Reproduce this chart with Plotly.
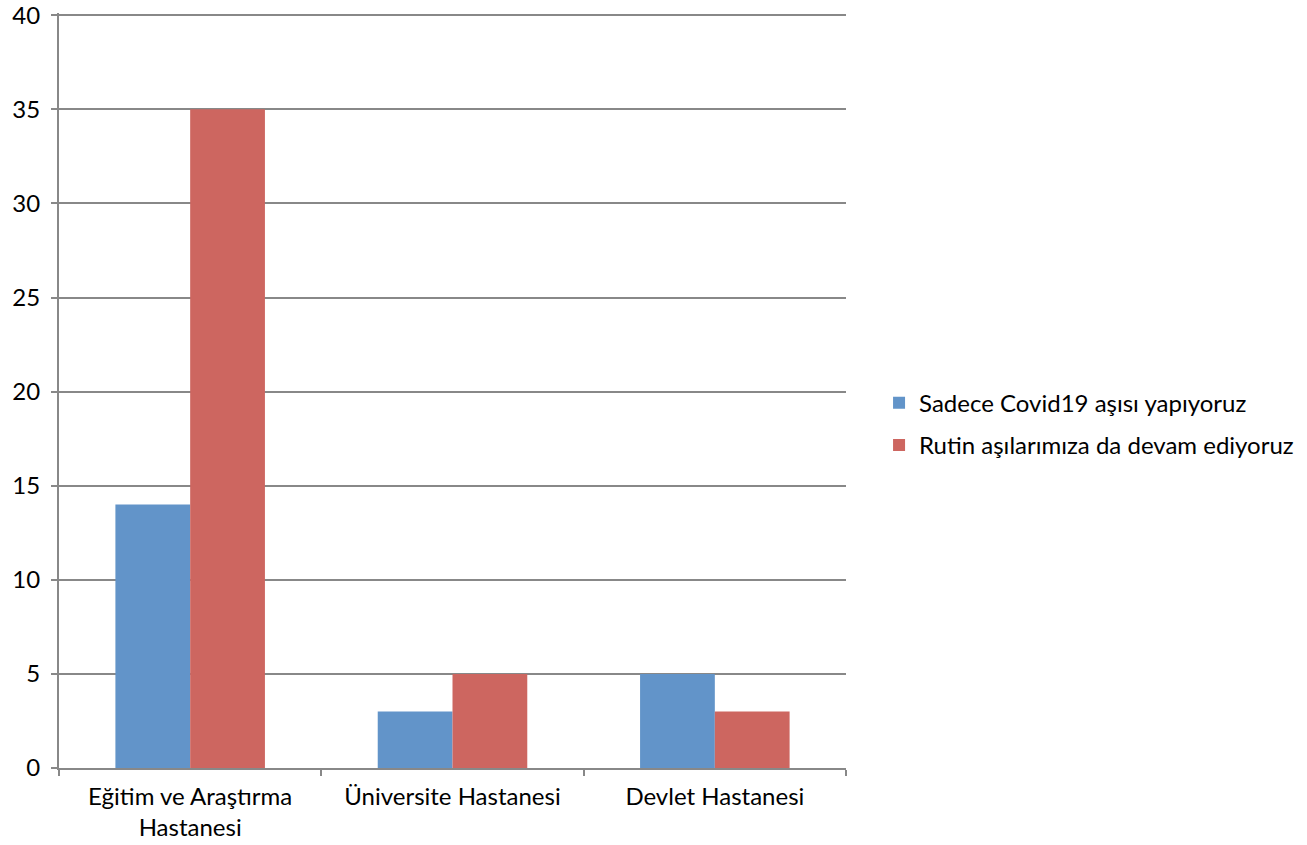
import plotly.graph_objects as go

categories = ["Eğitim ve Araştırma<br>Hastanesi", "Üniversite Hastanesi", "Devlet Hastanesi"]
series_names = ["Sadece Covid19 aşısı yapıyoruz", "Rutin aşılarımıza da devam ediyoruz"]
covid_only = [14, 3, 5]
routine_too = [35, 5, 3]
y_ticks = [0, 5, 10, 15, 20, 25, 30, 35, 40]
colors = ["#6294C9", "#CD6660"]

fig = go.Figure()
fig.add_trace(go.Bar(x=categories, y=covid_only, name=series_names[0], legendgroup="a",
                     marker=dict(color=colors[0], line=dict(width=0))))
fig.add_trace(go.Bar(x=categories, y=routine_too, name=series_names[1], legendgroup="b",
                     marker=dict(color=colors[1], line=dict(width=0))))

font_family = "Lato, 'Liberation Sans', sans-serif"
fig.update_layout(
    width=1307, height=845,
    margin=dict(l=59, r=461, t=13, b=77, autoexpand=False),
    paper_bgcolor="white", plot_bgcolor="white",
    barmode="group", bargap=0.43, bargroupgap=0,
    font=dict(family=font_family, size=24, color="black"),
    showlegend=True,
    legend=dict(x=1.042, y=0.4555, xanchor="left", yanchor="middle",
                font=dict(size=24), tracegroupgap=8, itemwidth=30,
                traceorder="grouped", bgcolor="rgba(0,0,0,0)"),
    xaxis=dict(showline=True, linecolor="#888888", linewidth=2, automargin=False,
               ticks="outside", tickson="boundaries", ticklen=6, tickcolor="#888888",
               tickwidth=2, showgrid=False, tickfont=dict(size=24), ticklabelstandoff=6),
    yaxis=dict(range=[0, 40.12], tickmode="array", tickvals=y_ticks,
               showline=True, linecolor="#888888", linewidth=2,
               automargin=False, ticklabeloverflow="allow",
               ticks="outside", ticklen=6, tickcolor="#888888", tickwidth=2,
               showgrid=True, gridcolor="#888888", gridwidth=1.5, zeroline=False,
               tickfont=dict(size=24), ticklabelstandoff=6),
)
fig.write_html("out.html", config={"displayModeBar": False},
               post_script="document.body.style.margin='0';")
